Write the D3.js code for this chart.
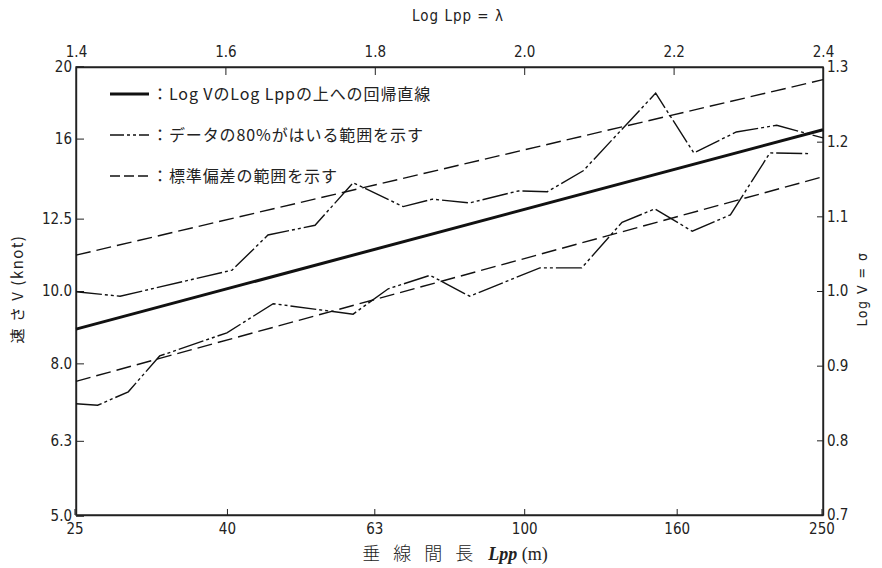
<!DOCTYPE html>
<html>
<head>
<meta charset="utf-8">
<script src="https://cdn.jsdelivr.net/npm/d3@7"></script>
<style>
  body { margin: 0; background: #fff; }
  text { fill: #222; }
  .tick text { font-family: "DejaVu Sans Condensed", "DejaVu Sans", sans-serif; font-stretch: condensed; font-size: 15px; fill: #222; }
  .jp { font-family: "Noto Sans CJK JP", sans-serif; }
</style>
</head>
<body>
<div id="chart"></div>
<script>
// log Lpp (lambda) ends of the straight lines
const lambdaEnds = [1.4, 2.4]
const regression = [0.949, 1.216]   // Log V
const sdUpper = [1.048, 1.283]
const sdLower = [0.879, 1.153]

// 80% band, upper edge (lambda, Log V)
const upLambda = [1.400, 1.459, 1.609, 1.657, 1.720, 1.771, 1.838, 1.877, 1.927, 1.992, 2.031, 2.079, 2.176, 2.227, 2.284, 2.338, 2.400]
const upSigma  = [0.999, 0.993, 1.028, 1.075, 1.088, 1.145, 1.113, 1.123, 1.118, 1.134, 1.133, 1.161, 1.265, 1.185, 1.213, 1.222, 1.205]
// 80% band, lower edge
const loLambda = [1.400, 1.429, 1.470, 1.512, 1.602, 1.664, 1.771, 1.818, 1.874, 1.927, 2.021, 2.077, 2.131, 2.175, 2.225, 2.276, 2.329, 2.380]
const loSigma  = [0.849, 0.847, 0.865, 0.913, 0.944, 0.983, 0.969, 1.003, 1.021, 0.993, 1.031, 1.031, 1.092, 1.110, 1.080, 1.102, 1.185, 1.184]

const lppTicks = [25, 40, 63, 100, 160, 250]
const lambdaTicks = [1.4, 1.6, 1.8, 2.0, 2.2, 2.4]
const vTicks = [5, 6.3, 8, 10, 12.5, 16, 20]
const vLabels = ['5.0', '6.3', '8.0', '10.0', '12.5', '16', '20']
const sigmaTicks = [0.7, 0.8, 0.9, 1.0, 1.1, 1.2, 1.3]

const legendItems = [
  'Log VのLog Lppの上への回帰直線',
  'データの80%がはいる範囲を示す',
  '標準偏差の範囲を示す'
]

const width = 882, height = 568
const margin = {top: 67, right: 59, bottom: 53, left: 76}

const svg = d3.select('#chart').append('svg')
  .attr('width', width).attr('height', height)

const x = d3.scaleLinear().domain([1.4, 2.4]).range([margin.left, width - margin.right])
const xLpp = d3.scaleLog().domain([10 ** 1.4, 10 ** 2.4]).range(x.range())
const y = d3.scaleLinear().domain([0.7, 1.3]).range([height - margin.bottom, margin.top])
const yV = d3.scaleLog().domain([10 ** 0.7, 10 ** 1.3]).range(y.range())

// frame
svg.append('rect')
  .attr('x', x(1.4)).attr('y', y(1.3))
  .attr('width', x(2.4) - x(1.4)).attr('height', y(0.7) - y(1.3))
  .attr('fill', 'none').attr('stroke', '#222').attr('stroke-width', 1.4)

svg.append('g').attr('transform', `translate(0,${y(0.7)})`)
  .call(d3.axisBottom(xLpp).tickValues(lppTicks).tickFormat(d3.format('d')).tickSize(-6).tickSizeOuter(0).tickPadding(8))
svg.append('g').attr('transform', `translate(0,${y(1.3)})`)
  .call(d3.axisTop(x).tickValues(lambdaTicks).tickFormat(d3.format('.1f')).tickSize(-8).tickSizeOuter(0).tickPadding(10))
svg.append('g').attr('transform', `translate(${x(1.4)},0)`)
  .call(d3.axisLeft(yV).tickValues(vTicks).tickFormat((d, i) => vLabels[i]).tickSize(-8).tickSizeOuter(0).tickPadding(4))
svg.append('g').attr('transform', `translate(${x(2.4)},0)`)
  .call(d3.axisRight(y).tickValues(sigmaTicks).tickFormat(d3.format('.1f')).tickSize(-6).tickSizeOuter(0).tickPadding(4))

svg.selectAll('.domain').attr('stroke', '#222').attr('stroke-width', 1.4)
svg.selectAll('.tick line').attr('stroke', '#222')

const line = d3.line().x(d => x(d[0])).y(d => y(d[1]))

function drawStraight(vals, w, dash) {
  svg.append('path')
    .datum(lambdaEnds.map((l, i) => [l, vals[i]]))
    .attr('d', line).attr('fill', 'none')
    .attr('stroke', '#111').attr('stroke-width', w)
    .attr('stroke-dasharray', dash)
}
drawStraight(regression, 3, null)
drawStraight(sdUpper, 1.4, '15,6')
drawStraight(sdLower, 1.4, '15,6')

const dashDot = '26,3,3,3,3,3'
svg.append('path')
  .datum(upLambda.map((l, i) => [l, upSigma[i]]))
  .attr('d', line).attr('fill', 'none')
  .attr('stroke', '#111').attr('stroke-width', 1.4).attr('stroke-dasharray', dashDot)
svg.append('path')
  .datum(loLambda.map((l, i) => [l, loSigma[i]]))
  .attr('d', line).attr('fill', 'none')
  .attr('stroke', '#111').attr('stroke-width', 1.4).attr('stroke-dasharray', dashDot)

// legend
const lg = svg.append('g')
const legendStyles = [[3, null], [1.4, '14,3,3,3,3,3'], [1.4, '10,4']]
legendItems.forEach((t, i) => {
  const yy = 94 + i * 41
  lg.append('line').attr('x1', 110).attr('x2', 149).attr('y1', yy).attr('y2', yy)
    .attr('stroke', '#111').attr('stroke-width', legendStyles[i][0])
    .attr('stroke-dasharray', legendStyles[i][1])
  lg.append('text').attr('class', 'jp').attr('x', 152).attr('y', yy).attr('dy', '0.35em')
    .attr('font-size', 16).attr('letter-spacing', 0.9).text('：' + t)
})

// titles
svg.append('text').attr('x', 458).attr('y', 16).attr('dy', '0.35em')
  .attr('text-anchor', 'middle').attr('font-family', 'DejaVu Sans Condensed, DejaVu Sans, sans-serif')
  .attr('font-size', 15).attr('letter-spacing', 1).text('Log Lpp = λ')

svg.append('text').attr('transform', 'translate(18,289) rotate(-90)')
  .attr('text-anchor', 'middle').attr('dy', '0.35em').attr('class', 'jp')
  .attr('font-size', 15).attr('letter-spacing', 1.5).text('速 さ V (knot)')

svg.append('text').attr('transform', 'translate(862,289) rotate(-90)')
  .attr('text-anchor', 'middle').attr('dy', '0.35em')
  .attr('font-family', 'DejaVu Sans Condensed, DejaVu Sans, sans-serif')
  .attr('font-size', 14).attr('letter-spacing', 1.5).text('Log V = σ')

const xt = svg.append('text').attr('x', 455).attr('y', 554).attr('dy', '0.35em')
  .attr('text-anchor', 'middle').attr('font-size', 18)
xt.append('tspan').attr('class', 'jp').attr('font-weight', 300).attr('letter-spacing', 13).text('垂線間長')
xt.append('tspan').attr('font-family', 'Liberation Serif, serif').attr('font-weight', 'bold')
  .attr('font-style', 'italic').attr('dx', 2).text('Lpp')
xt.append('tspan').attr('font-family', 'Liberation Serif, serif').text(' (m)')
</script>
</body>
</html>
